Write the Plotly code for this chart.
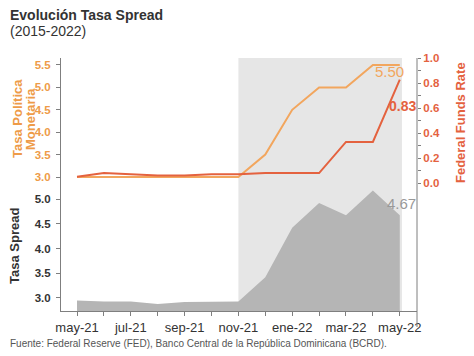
import plotly.graph_objects as go

months = ["may-21", "jun-21", "jul-21", "ago-21", "sep-21", "oct-21", "nov-21",
          "dic-21", "ene-22", "feb-22", "mar-22", "abr-22", "may-22"]
tick_labels = ["may-21", "", "jul-21", "", "sep-21", "", "nov-21",
               "", "ene-22", "", "mar-22", "", "may-22"]
tpm = [3.0, 3.0, 3.0, 3.0, 3.0, 3.0, 3.0, 3.5, 4.5, 5.0, 5.0, 5.5, 5.5]
ffr = [0.05, 0.08, 0.07, 0.06, 0.06, 0.07, 0.07, 0.08, 0.08, 0.08, 0.33, 0.33, 0.83]
spread = [2.95, 2.93, 2.93, 2.88, 2.92, 2.93, 2.93, 3.42, 4.42, 4.92, 4.67, 5.17, 4.67]

ORANGE = "#F2A65E"
ORANGE_TXT = "#EE9B48"
RED = "#E4623F"
GRAY_FILL = "#B5B5B5"
AXIS = "#7F7F7F"
FONT = "Liberation Sans, Arial, sans-serif"

fig = go.Figure()
fig.add_trace(go.Scatter(x=months, y=spread, mode="lines", fill="tozeroy",
                         line=dict(color=GRAY_FILL, width=0), fillcolor=GRAY_FILL,
                         xaxis="x", yaxis="y3", hoverinfo="skip"))
fig.add_trace(go.Scatter(x=months, y=tpm, mode="lines",
                         line=dict(color=ORANGE, width=2), xaxis="x", yaxis="y"))
fig.add_trace(go.Scatter(x=months, y=ffr, mode="lines",
                         line=dict(color=RED, width=2), xaxis="x", yaxis="y2"))

L, R, T, B = 61, 57, 58, 45
W, H = 474, 356
PW, PH = W - L - R, H - T - B


def px(x):
    return (x - L) / PW


def py(y):
    return (H - B - y) / PH


def label(text, x, y, size, color, angle=0, anchor="center"):
    return dict(text=text, xref="paper", yref="paper", x=px(x), y=py(y),
                xanchor=anchor, yanchor="middle", showarrow=False, textangle=angle,
                font=dict(size=size, color=color))


fig.update_layout(
    width=W, height=H, autosize=False,
    margin=dict(l=L, r=R, t=T, b=B, pad=0),
    paper_bgcolor="white", plot_bgcolor="rgba(0,0,0,0)",
    showlegend=False,
    font=dict(family=FONT, color="#333333"),
    xaxis=dict(type="category", range=[-0.595, 12.64], anchor="y3",
               tickmode="array", tickvals=months, ticktext=tick_labels,
               ticks="outside", ticklen=4, tickcolor=AXIS,
               showline=True, linecolor=AXIS, linewidth=1,
               showgrid=False, zeroline=False,
               tickfont=dict(size=13, color="#333333")),
    yaxis=dict(domain=[0.5, 1], range=[2.833, 5.656], anchor="x",
               tickmode="linear", tick0=3.0, dtick=0.5, tickformat=".1f",
               ticks="outside", ticklen=4, tickcolor=AXIS,
               showline=True, linecolor=AXIS, linewidth=1,
               showgrid=False, zeroline=False, ticklabelstandoff=3,
               tickfont=dict(size=11.5, color=ORANGE_TXT, weight="bold")),
    yaxis2=dict(overlaying="y", side="right", anchor="x",
                range=[-0.012, 1.003],
                tickmode="linear", tick0=0, dtick=0.2, tickformat=".1f",
                ticks="outside", ticklen=3, tickcolor=AXIS,
                minor=dict(ticks="outside", dtick=0.1, ticklen=3, tickcolor=AXIS),
                showline=False, showgrid=False, zeroline=False,
                tickfont=dict(size=11.5, color=RED, weight="bold")),
    yaxis3=dict(domain=[0, 0.5], range=[2.737, 5.293], anchor="x",
                tickmode="linear", tick0=3.0, dtick=0.5, tickformat=".1f",
                ticks="outside", ticklen=4, tickcolor=AXIS,
                showline=True, linecolor=AXIS, linewidth=1,
                showgrid=False, zeroline=False, ticklabelstandoff=3,
                tickfont=dict(size=11.5, color="#333333", weight="bold")),
    shapes=[
        dict(type="rect", xref="x", yref="paper", x0=6, x1=12.08, y0=0, y1=1,
             fillcolor="#E6E6E6", line=dict(width=0), layer="below"),
        dict(type="line", xref="paper", yref="paper", x0=1, x1=1, y0=py(327), y1=1,
             line=dict(color=AXIS, width=1)),
    ],
    annotations=[
        label("<b>Evolución Tasa Spread</b>", 8, 15, 14, "#333333", anchor="left"),
        label("(2015-2022)", 8, 31, 14, "#333333", anchor="left"),
        label("Fuente: Federal Reserve (FED), Banco Central de la República Dominicana (BCRD).",
              8, 343, 10, "#555555", anchor="left"),
        label("<b>Tasa Política</b>", 17, 119, 13, ORANGE_TXT, angle=-90),
        label("<b>Monetaria</b>", 30, 119, 13, ORANGE_TXT, angle=-90),
        label("<b>Tasa Spread</b>", 15, 246, 13, "#333333", angle=-90),
        label("<b>Federal Funds Rate</b>", 461, 123, 13, RED, angle=-90),
        label("5.50", 389, 71, 15, ORANGE),
        label("<b>0.83</b>", 402, 106, 14, RED),
        label("4.67", 401, 203, 15, "#999999"),
    ],
)

fig.write_html("out.html", config={"displayModeBar": False},
               post_script="document.body.style.margin='0';document.body.style.overflow='hidden';")
